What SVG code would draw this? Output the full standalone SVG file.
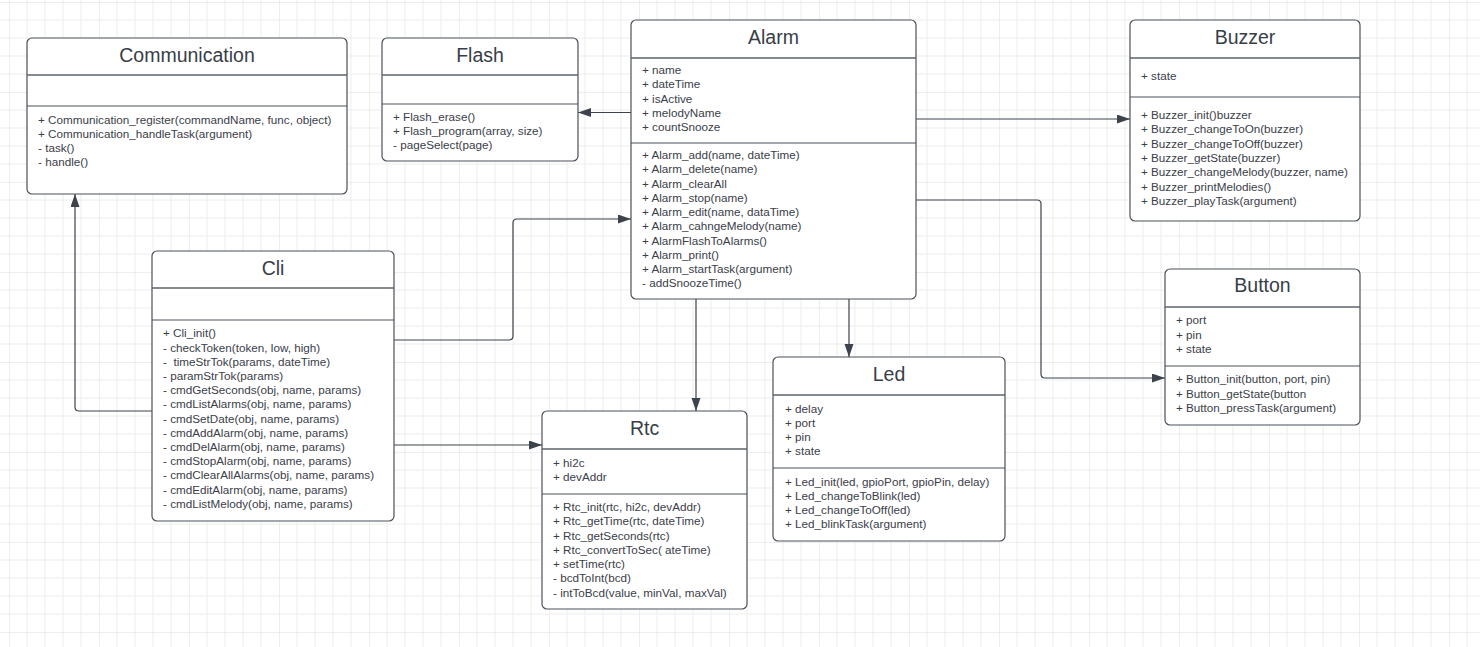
<svg xmlns="http://www.w3.org/2000/svg" width="1480" height="647" viewBox="0 0 1480 647">
<style>
.box{fill:#ffffff;stroke:#4b5059;stroke-width:1.2}
.sep{stroke:#4b5059;stroke-width:1.2}
.hsep{stroke:#5d636b;stroke-width:1.6}
.title{font-family:"Liberation Sans",Arial,sans-serif;font-size:19.5px;fill:#383e47;text-anchor:middle}
.t{font-family:"Liberation Sans",Arial,sans-serif;font-size:11.7px;fill:#3a4049;white-space:pre}
.con{fill:none;stroke:#3d434c;stroke-width:1.2;marker-end:url(#arr)}
</style>
<defs>
<pattern id="grid" patternUnits="userSpaceOnUse" x="9" y="2" width="90" height="90">
<path d="M18,0V90M36,0V90M54,0V90M72,0V90M0,18H90M0,36H90M0,54H90M0,72H90" stroke="#ededed" stroke-width="1" fill="none"/>
<path d="M0,0V90M0,0H90" stroke="#dedede" stroke-width="1" fill="none"/>
</pattern>
<marker id="arr" markerUnits="userSpaceOnUse" markerWidth="14" markerHeight="10" refX="13" refY="4.5" orient="auto">
<path d="M0,0L13,4.5L0,9z" fill="#3d434c"/>
</marker>
</defs>
<rect width="1480" height="647" fill="#ffffff"/>
<rect width="1480" height="647" fill="url(#grid)"/>

<g id="connectors">
<path class="con" d="M631,112.5H578"/>
<path class="con" d="M916,119H1130"/>
<path class="con" d="M916,200H1037Q1041,200 1041,204V374Q1041,378 1045,378H1165"/>
<path class="con" d="M849,299V357"/>
<path class="con" d="M696,299V411"/>
<path class="con" d="M394,340H509Q513,340 513,336V223Q513,219 517,219H631"/>
<path class="con" d="M394,445H542"/>
<path class="con" d="M152,411H79Q75,411 75,407V194"/>
</g>

<g id="Communication">
<rect class="box" x="27" y="38" width="320" height="156" rx="5"/>
<line class="hsep" x1="27" y1="75" x2="347" y2="75"/>
<line class="sep" x1="27" y1="106" x2="347" y2="106"/>
<text class="title" x="187" y="62">Communication</text>
<text class="t" x="38" y="124.3">+ Communication_register(commandName, func, object)</text>
<text class="t" x="38" y="138.3">+ Communication_handleTask(argument)</text>
<text class="t" x="38" y="152.3">- task()</text>
<text class="t" x="38" y="166.3">- handle()</text>
</g>

<g id="Flash">
<rect class="box" x="382" y="38" width="196" height="123" rx="5"/>
<line class="hsep" x1="382" y1="75" x2="578" y2="75"/>
<line class="sep" x1="382" y1="104" x2="578" y2="104"/>
<text class="title" x="480" y="62">Flash</text>
<text class="t" x="393" y="120.5">+ Flash_erase()</text>
<text class="t" x="393" y="134.5">+ Flash_program(array, size)</text>
<text class="t" x="393" y="148.7">- pageSelect(page)</text>
</g>

<g id="Alarm">
<rect class="box" x="631" y="20" width="285" height="279" rx="5"/>
<line class="hsep" x1="631" y1="58" x2="916" y2="58"/>
<line class="sep" x1="631" y1="143" x2="916" y2="143"/>
<text class="title" x="773.5" y="43.5">Alarm</text>
<text class="t" x="642" y="74.3">+ name</text>
<text class="t" x="642" y="88.4">+ dateTime</text>
<text class="t" x="642" y="102.5">+ isActive</text>
<text class="t" x="642" y="116.6">+ melodyName</text>
<text class="t" x="642" y="130.7">+ countSnooze</text>
<text class="t" x="642" y="159">+ Alarm_add(name, dateTime)</text>
<text class="t" x="642" y="173.3">+ Alarm_delete(name)</text>
<text class="t" x="642" y="187.5">+ Alarm_clearAll</text>
<text class="t" x="642" y="201.8">+ Alarm_stop(name)</text>
<text class="t" x="642" y="216">+ Alarm_edit(name, dataTime)</text>
<text class="t" x="642" y="230.3">+ Alarm_cahngeMelody(name)</text>
<text class="t" x="642" y="244.5">+ AlarmFlashToAlarms()</text>
<text class="t" x="642" y="258.8">+ Alarm_print()</text>
<text class="t" x="642" y="273">+ Alarm_startTask(argument)</text>
<text class="t" x="642" y="287.3">- addSnoozeTime()</text>
</g>

<g id="Buzzer">
<rect class="box" x="1130" y="20" width="230" height="201" rx="5"/>
<line class="hsep" x1="1130" y1="58" x2="1360" y2="58"/>
<line class="sep" x1="1130" y1="97" x2="1360" y2="97"/>
<text class="title" x="1245" y="43.5">Buzzer</text>
<text class="t" x="1141" y="80.3">+ state</text>
<text class="t" x="1141" y="119">+ Buzzer_init()buzzer</text>
<text class="t" x="1141" y="133.3">+ Buzzer_changeToOn(buzzer)</text>
<text class="t" x="1141" y="147.6">+ Buzzer_changeToOff(buzzer)</text>
<text class="t" x="1141" y="161.9">+ Buzzer_getState(buzzer)</text>
<text class="t" x="1141" y="176.2">+ Buzzer_changeMelody(buzzer, name)</text>
<text class="t" x="1141" y="190.5">+ Buzzer_printMelodies()</text>
<text class="t" x="1141" y="204.8">+ Buzzer_playTask(argument)</text>
</g>

<g id="Button">
<rect class="box" x="1165" y="269" width="195" height="156" rx="5"/>
<line class="hsep" x1="1165" y1="307" x2="1360" y2="307"/>
<line class="sep" x1="1165" y1="366" x2="1360" y2="366"/>
<text class="title" x="1262.5" y="292">Button</text>
<text class="t" x="1176" y="324.3">+ port</text>
<text class="t" x="1176" y="338.6">+ pin</text>
<text class="t" x="1176" y="352.9">+ state</text>
<text class="t" x="1176" y="383.3">+ Button_init(button, port, pin)</text>
<text class="t" x="1176" y="397.6">+ Button_getState(button</text>
<text class="t" x="1176" y="411.9">+ Button_pressTask(argument)</text>
</g>

<g id="Cli">
<rect class="box" x="152" y="251" width="242" height="270" rx="5"/>
<line class="hsep" x1="152" y1="288" x2="394" y2="288"/>
<line class="sep" x1="152" y1="320" x2="394" y2="320"/>
<text class="title" x="273" y="275">Cli</text>
<text class="t" x="163" y="337.3">+ Cli_init()</text>
<text class="t" x="163" y="351.5">- checkToken(token, low, high)</text>
<text class="t" x="163" y="365.7">-  timeStrTok(params, dateTime)</text>
<text class="t" x="163" y="380">- paramStrTok(params)</text>
<text class="t" x="163" y="394.2">- cmdGetSeconds(obj, name, params)</text>
<text class="t" x="163" y="408.4">- cmdListAlarms(obj, name, params)</text>
<text class="t" x="163" y="422.6">- cmdSetDate(obj, name, params)</text>
<text class="t" x="163" y="436.8">- cmdAddAlarm(obj, name, params)</text>
<text class="t" x="163" y="451">- cmdDelAlarm(obj, name, params)</text>
<text class="t" x="163" y="465.2">- cmdStopAlarm(obj, name, params)</text>
<text class="t" x="163" y="479.4">- cmdClearAllAlarms(obj, name, params)</text>
<text class="t" x="163" y="493.6">- cmdEditAlarm(obj, name, params)</text>
<text class="t" x="163" y="507.8">- cmdListMelody(obj, name, params)</text>
</g>

<g id="Rtc">
<rect class="box" x="542" y="411" width="205" height="198" rx="5"/>
<line class="hsep" x1="542" y1="449" x2="747" y2="449"/>
<line class="sep" x1="542" y1="494" x2="747" y2="494"/>
<text class="title" x="644.5" y="434.5">Rtc</text>
<text class="t" x="553" y="467">+ hi2c</text>
<text class="t" x="553" y="481">+ devAddr</text>
<text class="t" x="553" y="511">+ Rtc_init(rtc, hi2c, devAddr)</text>
<text class="t" x="553" y="525.3">+ Rtc_getTime(rtc, dateTime)</text>
<text class="t" x="553" y="539.6">+ Rtc_getSeconds(rtc)</text>
<text class="t" x="553" y="553.9">+ Rtc_convertToSec( ateTime)</text>
<text class="t" x="553" y="568.2">+ setTime(rtc)</text>
<text class="t" x="553" y="582.4">- bcdToInt(bcd)</text>
<text class="t" x="553" y="596.7">- intToBcd(value, minVal, maxVal)</text>
</g>

<g id="Led">
<rect class="box" x="773" y="357" width="232" height="184" rx="5"/>
<line class="hsep" x1="773" y1="395" x2="1005" y2="395"/>
<line class="sep" x1="773" y1="468" x2="1005" y2="468"/>
<text class="title" x="889" y="381">Led</text>
<text class="t" x="785" y="413.3">+ delay</text>
<text class="t" x="785" y="427.3">+ port</text>
<text class="t" x="785" y="441.3">+ pin</text>
<text class="t" x="785" y="455.3">+ state</text>
<text class="t" x="785" y="486">+ Led_init(led, gpioPort, gpioPin, delay)</text>
<text class="t" x="785" y="500.1">+ Led_changeToBlink(led)</text>
<text class="t" x="785" y="514.2">+ Led_changeToOff(led)</text>
<text class="t" x="785" y="528.3">+ Led_blinkTask(argument)</text>
</g>
</svg>
